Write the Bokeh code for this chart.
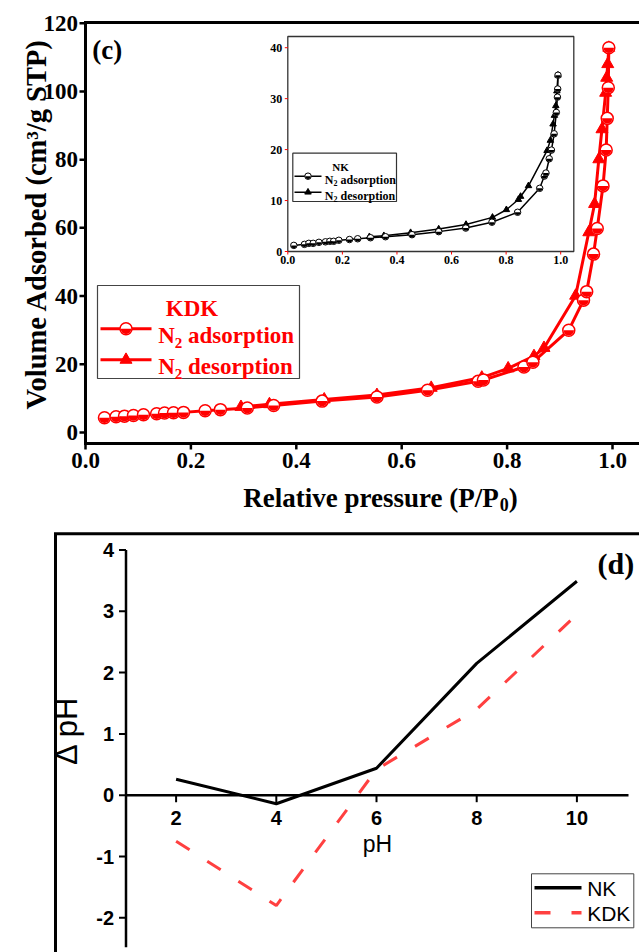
import numpy as np
from bokeh.plotting import figure
from bokeh.models import Range1d
from bokeh.layouts import column
from bokeh.embed import file_html
from bokeh.resources import INLINE
from bokeh.core.properties import value

# ---------------- data: panel (c) main plot (KDK) ----------------
kdk_ads_p = [0.036, 0.058, 0.074, 0.091, 0.110, 0.135, 0.150, 0.167, 0.186, 0.227,
             0.256, 0.307, 0.357, 0.449, 0.553, 0.649, 0.745, 0.755, 0.832, 0.849,
             0.917, 0.945, 0.951, 0.964, 0.971, 0.982, 0.988, 0.990, 0.992, 0.993]
kdk_ads_v = [4.3, 4.6, 4.8, 5.0, 5.2, 5.5, 5.7, 5.8, 5.9, 6.4,
             6.7, 7.2, 7.9, 9.2, 10.4, 12.4, 15.0, 15.4, 19.2, 20.6,
             30.0, 38.8, 41.3, 52.3, 59.8, 72.3, 82.8, 92.1, 101.1, 112.8]
kdk_des_p = [0.993, 0.991, 0.989, 0.987, 0.980, 0.974, 0.966, 0.955, 0.930, 0.870,
             0.851, 0.802, 0.752, 0.656, 0.553, 0.453, 0.349, 0.295]
kdk_des_v = [112.8, 108.0, 104.0, 99.6, 88.9, 80.1, 67.0, 58.7, 40.1, 24.8,
             22.4, 18.8, 16.1, 13.1, 11.0, 9.7, 8.3, 7.5]

# ---------------- data: panel (c) inset (NK) ----------------
nk_ads_p = [0.022, 0.061, 0.077, 0.093, 0.114, 0.138, 0.154, 0.168, 0.187, 0.226,
            0.256, 0.303, 0.358, 0.455, 0.553, 0.652, 0.748, 0.842, 0.923, 0.940,
            0.946, 0.958, 0.966, 0.976, 0.984, 0.988, 0.989, 0.990]
nk_ads_v = [1.2, 1.4, 1.6, 1.6, 1.8, 1.9, 2.0, 2.0, 2.2, 2.35,
            2.5, 2.7, 2.9, 3.3, 3.9, 4.6, 5.75, 7.7, 12.4, 14.8,
            15.4, 18.2, 19.9, 23.1, 27.3, 30.3, 31.9, 34.6]
nk_des_p = [0.990, 0.986, 0.982, 0.977, 0.972, 0.962, 0.950, 0.882, 0.853, 0.845,
            0.801, 0.750, 0.653, 0.553, 0.450, 0.352, 0.299]
nk_des_v = [34.6, 31.5, 28.6, 26.7, 25.0, 21.8, 19.8, 12.9, 10.8, 10.2,
            8.2, 6.7, 5.3, 4.4, 3.7, 3.1, 2.9]

main_x_ticks = [0.0, 0.2, 0.4, 0.6, 0.8, 1.0]
main_y_ticks = [0, 20, 40, 60, 80, 100, 120]
MAIN_XLIM = (0.0, 1.07)
MAIN_YLIM = (-3.2, 120.2)
inset_x_ticks = [0.0, 0.2, 0.4, 0.6, 0.8, 1.0]
inset_y_ticks = [0, 10, 20, 30, 40]
INSET_XLIM = (0.0, 1.048)
INSET_YLIM = (0.0, 42.2)

# ---------------- data: panel (d) ----------------
ph_values = [2, 4, 6, 8, 10]
dph_nk = [0.26, -0.14, 0.44, 2.15, 3.49]
dph_kdk = [-0.75, -1.80, 0.42, 1.40, 2.95]
d_x_ticks = [2, 4, 6, 8, 10]
d_y_ticks = [-2, -1, 0, 1, 2, 3, 4]
D_XLIM = (1.0, 11.03)
D_YLIM = (-2.48, 4.0)

SERIF = "Liberation Serif"
SANS = "Liberation Sans"
RED = "#FF0000"
RED2 = "#FF4040"

# Times-Bold advance widths (per 1000 em) for composing sub/superscripts
TB = {" ": 250, "(": 333, ")": 333, "/": 278, ".": 250,
      "A": 722, "D": 722, "K": 778, "N": 722, "P": 611, "R": 722, "S": 556, "T": 667,
      "a": 500, "b": 556, "c": 444, "d": 556, "e": 444, "g": 500, "i": 278, "l": 278,
      "m": 833, "n": 556, "o": 500, "p": 556, "r": 444, "s": 389, "t": 333, "u": 556, "v": 500}


def tw(s, size):
    return sum(TB.get(c, 500) for c in s) / 1000.0 * size


def rich(p, x, y, parts, color, align="left"):
    """Compose bold serif text with sub/superscripts in canvas-pixel coords."""
    total = sum(tw(t, s) for t, s, dy in parts)
    cx = x - (total / 2.0 if align == "center" else 0.0)
    for t, s, dy in parts:
        lead = len(t) - len(t.lstrip(" "))
        cx += lead * 0.25 * s
        t2 = t.lstrip(" ")
        p.text(x=[cx], y=[y + dy], text=[t2], x_range_name="px", y_range_name="py",
               text_font=value(SERIF), text_font_size=f"{s}px", text_font_style="bold",
               text_color=color, text_align="left", text_baseline="alphabetic")
        cx += tw(t2, s)


def half_circles(p, xs, ys, color, size, lw, **kw):
    p.scatter(xs, ys, marker="circle", size=size, fill_color="white", line_color=color,
              line_width=lw, **kw)
    p.wedge(x=xs, y=ys, radius=size / 2.0 - lw / 2.0, radius_units="screen",
            start_angle=np.pi, end_angle=2 * np.pi, fill_color=color, line_color=None, **kw)


def xmap(a, pa, b, pb, n):
    """Range so that value a lands on canvas x pa and b on pb (canvas width n)."""
    k = (pb - pa) / (b - a)
    s = a - pa / k
    return Range1d(s, s + n / k), k


def ymap(a, pa, b, pb, n):
    """Range so that value a lands on canvas y pa and b on pb (y down, canvas height n)."""
    k = (pa - pb) / (b - a)
    s = a - (n - pa) / k
    return Range1d(s, s + n / k), k


W = 639

# ======================= panel (c) =======================
H1 = 520
xr1, kx1 = xmap(0.0, 85.0, 1.0, 612.0, W)
yr1, ky1 = ymap(0.0, 432.0, 120.0, 22.7, H1)
p1 = figure(width=W, height=H1, output_backend="svg", toolbar_location=None,
            x_range=xr1, y_range=yr1, x_axis_location=None, y_axis_location=None,
            min_border=0)
p1.outline_line_color = None
p1.grid.visible = False

IL, IR, IT, IB = 287.3, 573.3, 36.0, 251.0
ixr, kxi = xmap(INSET_XLIM[0], IL, INSET_XLIM[1], IR, W)
iyr, kyi = ymap(INSET_YLIM[0], IB, INSET_YLIM[1], IT, H1)
p1.extra_x_ranges = {"px": Range1d(0, W), "ix": ixr}
p1.extra_y_ranges = {"py": Range1d(H1, 0), "iy": iyr}
I = dict(x_range_name="ix", y_range_name="iy")
PX = dict(x_range_name="px", y_range_name="py")

# main axes frame (top, left, bottom)
p1.line(x=[MAIN_XLIM[1], MAIN_XLIM[0], MAIN_XLIM[0], MAIN_XLIM[1]],
        y=[MAIN_YLIM[1], MAIN_YLIM[1], MAIN_YLIM[0], MAIN_YLIM[0]],
        line_color="black", line_width=3, line_join="miter")
nyt, nxt = len(main_y_ticks), len(main_x_ticks)
p1.segment(x0=[MAIN_XLIM[0]] * nyt, y0=main_y_ticks, x1=[MAIN_XLIM[0] - 6.0 / kx1] * nyt,
           y1=main_y_ticks, line_color="black", line_width=2.5)
p1.segment(x0=main_x_ticks, y0=[MAIN_YLIM[0]] * nxt, x1=main_x_ticks,
           y1=[MAIN_YLIM[0] - 6.0 / ky1] * nxt, line_color="black", line_width=2.5)
p1.text(x=[MAIN_XLIM[0] - 7.5 / kx1] * nyt, y=main_y_ticks, text=[str(t) for t in main_y_ticks],
        text_align="right", text_baseline="middle", text_font=value(SERIF),
        text_font_style="bold", text_font_size="23px", text_color="black")
p1.text(x=main_x_ticks, y=[MAIN_YLIM[0] - 10.0 / ky1] * nxt,
        text=[f"{t:.1f}" for t in main_x_ticks], text_align="center", text_baseline="top",
        text_font=value(SERIF), text_font_style="bold", text_font_size="23px",
        text_color="black")

# ---- inset ----
p1.quad(left=INSET_XLIM[0], right=INSET_XLIM[1], bottom=INSET_YLIM[0], top=INSET_YLIM[1],
        fill_color="white", line_color="#333333", line_width=1.3, **I)
nixt, niyt = len(inset_x_ticks), len(inset_y_ticks)
p1.segment(x0=inset_x_ticks, y0=[0] * nixt, x1=inset_x_ticks, y1=[-3.0 / kyi] * nixt,
           line_color="red", line_width=1, **I)
p1.segment(x0=[0] * niyt, y0=inset_y_ticks, x1=[-3.0 / kxi] * niyt, y1=inset_y_ticks,
           line_color="red", line_width=1, **I)
p1.text(x=inset_x_ticks, y=[-4.0 / kyi] * nixt, text=[f"{t:.1f}" for t in inset_x_ticks],
        text_align="center", text_baseline="top", text_font=value(SERIF),
        text_font_style="bold", text_font_size="12px", text_color="black", **I)
p1.text(x=[-5.5 / kxi] * niyt, y=inset_y_ticks, text=[str(t) for t in inset_y_ticks],
        text_align="right", text_baseline="middle", text_font=value(SERIF),
        text_font_style="bold", text_font_size="12px", text_color="black", **I)
p1.line(nk_ads_p, nk_ads_v, line_color="black", line_width=1.5, **I)
p1.line(nk_des_p, nk_des_v, line_color="black", line_width=1.5, **I)
p1.scatter(nk_des_p, nk_des_v, marker="triangle", size=6.5, fill_color="black",
           line_color="black", **I)
half_circles(p1, nk_ads_p, nk_ads_v, "black", 6.5, 1.0, **I)

# inset legend
p1.quad(left=292.3, right=396, top=152.7, bottom=201, fill_color="white",
        line_color="#333333", line_width=1.2, **PX)
rich(p1, 340, 166, [("NK", 11, 0)], "black", align="center")
p1.segment(x0=[294, 294], x1=[321, 321], y0=[175.7, 191.7], y1=[175.7, 191.7],
           line_color="black", line_width=1.5, **PX)
half_circles(p1, [307.5], [175.7], "black", 6.5, 1.0, **PX)
p1.scatter([307.5], [191.7], marker="triangle", size=6.5, fill_color="black",
           line_color="black", **PX)
rich(p1, 324.3, 179.3, [("N", 12, 0), ("2", 8, 3), (" adsorption", 12, 0)], "black")
rich(p1, 324.3, 195.3, [("N", 12, 0), ("2", 8, 3), (" desorption", 12, 0)], "black")

# ---- main KDK data ----
p1.line(kdk_ads_p, kdk_ads_v, line_color=RED, line_width=3)
p1.line(kdk_des_p, kdk_des_v, line_color=RED, line_width=3)
p1.scatter(kdk_des_p, kdk_des_v, marker="triangle", size=12, fill_color=RED, line_color=RED)
half_circles(p1, kdk_ads_p, kdk_ads_v, RED, 12, 1.5)

# main legend
p1.quad(left=97, right=299, top=285, bottom=378, fill_color="white",
        line_color="#444444", line_width=1.2, **PX)
rich(p1, 191.5, 308.3, [("KDK", 23, 0)], RED, align="center")
p1.segment(x0=[100, 100], x1=[151, 151], y0=[328.3, 359.3], y1=[328.3, 359.3],
           line_color=RED, line_width=3, **PX)
half_circles(p1, [125.5], [328.3], RED, 12, 1.5, **PX)
p1.scatter([125.5], [359.3], marker="triangle", size=12, fill_color=RED, line_color=RED, **PX)
rich(p1, 157.7, 335.3, [("N", 23, 0), ("2", 15, 7), (" adsorption", 23, 0)], RED)
rich(p1, 157.7, 366.3, [("N", 23, 0), ("2", 15, 7), (" desorption", 23, 0)], RED)

# panel label and axis titles
rich(p1, 91.7, 49, [("(c)", 27, 0)], "black")
rich(p1, 380, 497, [("Relative pressure (P/P", 27, 0), ("0", 18, 7), (")", 27, 0)],
     "black", align="center")
p1.text(x=[36], y=[223.5], text=["Volume Adsorbed (cm³/g STP)"], angle=np.pi / 2,
        text_font=value(SERIF), text_font_size="28.5px", text_font_style="bold",
        text_color="black", text_align="center", text_baseline="alphabetic", **PX)

# ======================= panel (d) =======================
H2 = 432
xr2, kx2 = xmap(2.0, 175.6, 10.0, 576.4, W)
yr2, ky2 = ymap(0.0, 274.7, 4.0, 29.5, H2)
p2 = figure(width=W, height=H2, output_backend="svg", toolbar_location=None,
            x_range=xr2, y_range=yr2, x_axis_location=None, y_axis_location=None,
            min_border=0)
p2.outline_line_color = None
p2.grid.visible = False
p2.extra_x_ranges = {"px": Range1d(0, W)}
p2.extra_y_ranges = {"py": Range1d(H2, 0)}

# outer box (top and left edges visible)
p2.line(x=[W + 20, 55, 55], y=[13.3, 13.3, H2 + 20], line_color="black", line_width=3,
        line_join="miter", **PX)

# inner axes
p2.segment(x0=[D_XLIM[0]], y0=[D_YLIM[0]], x1=[D_XLIM[0]], y1=[D_YLIM[1]],
           line_color="black", line_width=2.5)
p2.segment(x0=[D_XLIM[0]], y0=[0], x1=[D_XLIM[1]], y1=[0], line_color="black", line_width=2.5)
p2.segment(x0=[D_XLIM[0]] * len(d_y_ticks), y0=d_y_ticks,
           x1=[D_XLIM[0] - 7.0 / kx2] * len(d_y_ticks), y1=d_y_ticks,
           line_color="black", line_width=2)
p2.segment(x0=d_x_ticks, y0=[0] * len(d_x_ticks), x1=d_x_ticks,
           y1=[-7.0 / ky2] * len(d_x_ticks), line_color="black", line_width=2)
p2.text(x=[D_XLIM[0] - 12.0 / kx2] * len(d_y_ticks), y=d_y_ticks,
        text=[str(t) for t in d_y_ticks], text_align="right", text_baseline="middle",
        text_font=value(SANS), text_font_style="bold", text_font_size="20px", text_color="black")
p2.text(x=d_x_ticks, y=[-23.0 / ky2] * len(d_x_ticks), text=[str(t) for t in d_x_ticks],
        text_align="center", text_baseline="middle", text_font=value(SANS),
        text_font_style="bold", text_font_size="20px", text_color="black")

# data
p2.line(ph_values, dph_nk, line_color="black", line_width=3)
p2.line(ph_values, dph_kdk, line_color=RED2, line_width=3, line_dash="16 21")

# titles
p2.text(x=[377], y=[323], text=["pH"], text_align="center", text_baseline="middle",
        text_font=value(SANS), text_font_size="23px", text_color="black", **PX)
p2.text(x=[66], y=[210], text=["Δ pH"], angle=np.pi / 2, text_align="center",
        text_baseline="middle", text_font=value(SANS), text_font_size="31px",
        text_color="black", **PX)
rich(p2, 597, 43, [("(d)", 30, 0)], "black")

# legend
p2.quad(left=531, right=633.3, top=353.3, bottom=407.3, fill_color="white",
        line_color="#444444", line_width=1.0, **PX)
p2.segment(x0=[534], x1=[581], y0=[367.3], y1=[367.3], line_color="black", line_width=3.5, **PX)
p2.segment(x0=[534], x1=[581], y0=[392.3], y1=[392.3], line_color=RED2, line_width=3.5,
           line_dash="16 21", **PX)
p2.text(x=[586.7, 586.7], y=[367.5, 392.5], text=["NK", "KDK"], text_align="left",
        text_baseline="middle", text_font=value(SANS), text_font_size="21px",
        text_color="black", **PX)

layout = column(p1, p2, spacing=0)
open("out.html", "w").write(file_html(layout, INLINE))
